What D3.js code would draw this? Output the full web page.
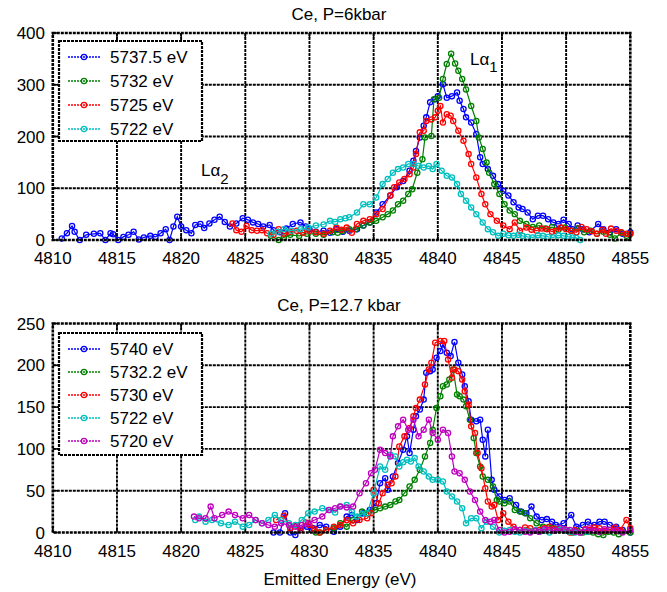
<!DOCTYPE html>
<html>
<head>
<meta charset="utf-8">
<script src="https://cdn.jsdelivr.net/npm/d3@7"></script>
<style>
  body { margin: 0; background: #fff; }
  svg text { font-family: "Liberation Sans", Arial, sans-serif; fill: #000; }
</style>
</head>
<body>
<div id="chart"></div>
<script>
// ---- data: [emitted energy (eV), counts] ----
var topLabels = ["5737.5 eV", "5732 eV", "5725 eV", "5722 eV"];
var botLabels = ["5740 eV", "5732.2 eV", "5730 eV", "5722 eV", "5720 eV"];
var topColors = ["#0000ff", "#008000", "#ff0000", "#00bfbf"];
var botColors = ["#0000ff", "#008000", "#ff0000", "#00bfbf", "#bf00bf"];
var xTicks = [4810, 4815, 4820, 4825, 4830, 4835, 4840, 4845, 4850, 4855];
var topYTicks = [0, 100, 200, 300, 400];
var botYTicks = [0, 50, 100, 150, 200, 250];

var top5737 = [[4810.7,3],[4811.1,13],[4811.5,27],[4811.7,16],[4812.1,0],[4812.6,10],[4813.2,12],[4813.7,13],[4814.1,0],[4814.5,13],[4814.7,11],[4815.1,0],[4815.5,6],[4815.9,10],[4816.3,16],[4816.7,1],[4817.1,5],[4817.6,8],[4818,6],[4818.4,13],[4818.8,21],[4819.1,0],[4819.4,26],[4819.7,45],[4820,26],[4820.4,19],[4820.8,13],[4821.1,29],[4821.5,31],[4821.8,23],[4822.2,32],[4822.6,39],[4823,45],[4823.4,35],[4823.8,26],[4824.3,32],[4824.8,42],[4825.2,39],[4825.6,34],[4826,31],[4826.4,26],[4826.9,29],[4827.2,19],[4827.7,15],[4828.2,22],[4828.7,31],[4829.3,34],[4829.7,26],[4830,21],[4830.5,16],[4831.1,18],[4831.6,14],[4832.1,21],[4832.6,16],[4833.1,18],[4833.7,21],[4834.2,28],[4834.7,34],[4835.2,53],[4835.7,69],[4836.3,86],[4836.8,102],[4837.3,114],[4837.8,134],[4838.1,153],[4838.3,172],[4838.6,198],[4838.9,221],[4839.1,237],[4839.4,266],[4839.8,272],[4840,278],[4840.4,301],[4840.7,275],[4841.1,278],[4841.5,285],[4841.7,269],[4842,253],[4842.2,237],[4842.6,227],[4843,205],[4843.3,160],[4843.5,147],[4843.9,137],[4844.3,124],[4844.7,108],[4845.1,95],[4845.5,86],[4845.9,73],[4846.3,63],[4846.6,60],[4847,53],[4847.4,40],[4847.8,47],[4848.2,47],[4848.6,40],[4849,34],[4849.4,31],[4849.8,39],[4850.2,31],[4850.5,21],[4850.9,28],[4851.3,21],[4851.8,15],[4852.5,31],[4852.9,21],[4853.4,15],[4853.9,21],[4854.4,12],[4855,15]];
var top5732 = [[4827,8],[4827.6,0],[4828,5],[4828.5,10],[4829.2,8],[4829.8,12],[4830.5,12],[4831.1,10],[4831.8,15],[4832.2,14],[4832.6,18],[4833.1,21],[4833.6,21],[4834.2,28],[4834.7,34],[4835.2,37],[4835.7,44],[4836.1,50],[4836.5,57],[4836.9,69],[4837.3,76],[4837.7,89],[4838,98],[4838.4,130],[4838.8,156],[4839,198],[4839.5,201],[4839.7,272],[4840.1,275],[4840.4,311],[4840.7,340],[4841.04,360],[4841.35,341],[4841.6,327],[4841.9,311],[4842.2,291],[4842.6,259],[4843,230],[4843.2,198],[4843.5,176],[4843.8,150],[4844,130],[4844.4,108],[4844.8,89],[4845.2,69],[4845.6,57],[4846,50],[4846.4,37],[4846.9,31],[4847.4,25],[4847.9,28],[4848.4,22],[4848.9,25],[4849.4,20],[4849.9,24],[4850.4,18],[4850.9,22],[4851.4,15],[4851.9,18],[4852.4,12],[4852.9,16],[4853.4,10],[4853.8,3],[4854.3,14],[4854.7,8],[4855,12]];
var top5725 = [[4824,32],[4824.3,19],[4824.7,16],[4825.1,27],[4825.5,19],[4825.9,18],[4826.3,19],[4826.7,13],[4827.2,10],[4827.6,21],[4828,12],[4828.5,16],[4829,18],[4829.5,14],[4830,18],[4830.5,15],[4831.1,12],[4831.6,18],[4832.1,24],[4832.5,20],[4832.9,24],[4833.3,14],[4833.7,31],[4834.2,37],[4834.7,40],[4835.2,50],[4835.7,60],[4836.3,86],[4836.6,102],[4837,111],[4837.4,118],[4837.8,127],[4838.1,140],[4838.3,166],[4838.6,208],[4838.9,211],[4839.1,230],[4839.5,233],[4839.8,237],[4840,250],[4840.2,259],[4840.4,227],[4840.7,243],[4841,240],[4841.2,230],[4841.6,211],[4842,192],[4842.4,166],[4842.6,147],[4843,121],[4843.4,89],[4843.7,69],[4844.1,50],[4844.6,37],[4845.1,28],[4845.6,21],[4846,34],[4846.4,18],[4846.9,24],[4847.3,20],[4847.7,18],[4848.1,22],[4848.5,21],[4848.9,16],[4849.2,18],[4849.6,24],[4850,21],[4850.4,18],[4850.8,15],[4851.2,25],[4851.6,21],[4852,17],[4852.4,12],[4852.8,20],[4853.1,12],[4853.5,22],[4853.9,18],[4854.3,15],[4854.7,12],[4855,12]];
var top5722 = [[4827,12],[4827.5,16],[4828,21],[4828.6,18],[4829.3,21],[4829.9,24],[4830.5,28],[4831.1,30],[4831.6,37],[4832,35],[4832.4,40],[4832.8,42],[4833.1,44],[4833.7,53],[4834.2,69],[4834.7,69],[4835.2,82],[4835.7,108],[4836.1,118],[4836.5,130],[4836.9,137],[4837.3,140],[4837.7,147],[4838.1,147],[4838.5,143],[4838.9,140],[4839.3,143],[4839.6,137],[4839.9,147],[4840.3,134],[4840.7,124],[4841.1,121],[4841.5,108],[4841.8,89],[4842.2,76],[4842.6,63],[4843,50],[4843.5,34],[4843.9,21],[4844.3,15],[4844.7,8],[4845.1,12],[4845.5,9],[4845.9,8],[4846.3,10],[4846.6,8],[4847,6],[4847.4,5],[4847.8,9],[4848.2,8],[4848.6,6],[4849,5],[4849.4,9],[4849.8,8],[4850.2,6],[4850.5,5],[4850.8,4],[4851.1,0]];

var bot5740 = [[4827.2,0],[4827.7,0],[4828.1,23],[4828.5,0],[4828.9,-3],[4829.3,5],[4829.8,7],[4830.3,5],[4830.8,9],[4831.3,7],[4831.9,1],[4832.4,7],[4832.9,19],[4833.3,21],[4833.7,15],[4834.2,23],[4834.7,27],[4835.2,35],[4835.5,59],[4835.9,65],[4836.1,51],[4836.5,67],[4836.9,83],[4837.3,99],[4837.6,115],[4837.8,95],[4838.1,123],[4838.3,139],[4838.6,147],[4838.9,159],[4839.1,191],[4839.4,193],[4839.6,195],[4839.9,209],[4840.2,217],[4840.4,225],[4840.7,215],[4841,211],[4841.3,228],[4841.6,203],[4841.9,189],[4842.1,175],[4842.4,157],[4842.6,135],[4843,133],[4843.3,135],[4843.5,111],[4843.7,91],[4843.9,123],[4844.2,63],[4844.4,51],[4844.8,43],[4845.2,39],[4845.6,41],[4846.1,33],[4846.5,25],[4846.9,23],[4847.3,31],[4847.7,19],[4848.1,15],[4848.5,16],[4848.9,13],[4849.2,9],[4849.8,11],[4850.4,21],[4850.8,7],[4851.3,9],[4851.7,13],[4852.2,9],[4852.6,13],[4853,13],[4853.4,9],[4853.9,7],[4854.4,3],[4855,0]];
var bot5732 = [[4830.5,0],[4830.8,0],[4831.3,3],[4831.9,5],[4832.4,11],[4832.9,7],[4833.4,15],[4834.1,25],[4834.6,23],[4835.1,27],[4835.5,29],[4835.9,31],[4836.3,33],[4836.7,37],[4837,39],[4837.4,47],[4837.8,55],[4838.2,63],[4838.6,75],[4839,91],[4839.4,107],[4839.6,123],[4839.9,149],[4840.2,163],[4840.4,175],[4840.7,177],[4840.9,183],[4841.2,195],[4841.5,165],[4841.7,163],[4842,159],[4842.2,151],[4842.5,135],[4842.8,113],[4843,95],[4843.3,79],[4843.5,67],[4843.9,63],[4844.3,55],[4844.6,39],[4844.8,37],[4845.2,35],[4845.6,37],[4846,27],[4846.4,25],[4846.8,23],[4847.2,17],[4847.7,11],[4848.2,7],[4848.6,6],[4849,5],[4849.4,4],[4849.8,3],[4850.1,2],[4850.5,0],[4850.9,2],[4851.3,0],[4851.7,1],[4852.1,0],[4852.5,-2],[4852.9,-3],[4853.3,1],[4853.7,0],[4854.1,-2],[4854.4,1],[4855,0]];
var bot5730 = [[4827.4,15],[4828,20],[4828.5,5],[4829,8],[4829.3,3],[4829.7,12],[4830,9],[4830.4,4],[4830.8,0],[4831.3,3],[4831.9,7],[4832.4,9],[4832.9,15],[4833.4,11],[4833.9,15],[4834.5,17],[4834.8,23],[4835,51],[4835.4,35],[4835.7,47],[4836.1,57],[4836.4,59],[4836.7,67],[4837,103],[4837.4,115],[4837.8,125],[4838.1,139],[4838.3,149],[4838.6,159],[4839,177],[4839.3,195],[4839.5,203],[4839.8,227],[4840.2,229],[4840.5,229],[4840.8,207],[4841.1,185],[4841.3,195],[4841.6,193],[4841.9,183],[4842.1,169],[4842.4,153],[4842.6,127],[4842.9,119],[4843.1,95],[4843.4,77],[4843.7,53],[4843.9,37],[4844.2,31],[4844.4,33],[4844.7,15],[4845.1,23],[4845.5,13],[4845.9,7],[4846.4,3],[4846.8,6],[4847.2,5],[4847.6,2],[4847.9,3],[4848.3,5],[4848.7,7],[4849.1,4],[4849.5,3],[4849.9,2],[4850.3,0],[4850.7,3],[4851.1,0],[4851.5,4],[4851.8,3],[4852.2,6],[4852.6,5],[4853,2],[4853.4,3],[4853.8,6],[4854.2,3],[4854.7,15],[4855,5]];
var bot5722 = [[4821.1,15],[4821.4,19],[4821.9,13],[4822.4,15],[4823.1,11],[4823.7,9],[4824.2,13],[4824.8,7],[4825.3,9],[4825.8,15],[4826.3,11],[4826.8,15],[4827.3,21],[4827.8,15],[4828.4,11],[4828.9,9],[4829.4,15],[4829.9,23],[4830.4,25],[4831,29],[4831.6,27],[4832,24],[4832.4,31],[4832.9,33],[4833.3,25],[4833.7,19],[4834.1,22],[4834.5,23],[4835,47],[4835.5,79],[4835.9,75],[4836.3,93],[4836.7,91],[4837,79],[4837.3,84],[4837.6,87],[4837.9,85],[4838.2,89],[4838.5,79],[4838.9,73],[4839.3,67],[4839.6,63],[4840,63],[4840.4,61],[4840.7,49],[4841.1,43],[4841.5,37],[4841.9,29],[4842.2,11],[4842.6,17],[4843,17],[4843.4,5],[4843.8,13],[4844.3,7],[4844.8,0],[4845.2,2],[4845.6,3],[4846,1],[4846.4,0],[4846.8,2],[4847.2,1],[4847.6,3],[4847.9,1],[4848.3,2],[4848.7,0],[4849.1,2],[4849.5,3],[4849.9,2],[4850.3,1],[4850.7,0],[4851.1,0],[4851.6,1]];
var bot5720 = [[4821,19],[4821.4,17],[4821.9,17],[4822.3,31],[4822.6,17],[4823.2,21],[4823.7,25],[4824.2,21],[4824.8,17],[4825.3,21],[4825.8,15],[4826.3,11],[4826.8,9],[4827.3,7],[4827.8,11],[4828.4,9],[4828.9,7],[4829.4,9],[4829.9,11],[4830.4,15],[4831,19],[4831.5,27],[4832,29],[4832.4,31],[4832.9,30],[4833.4,31],[4833.9,47],[4834.4,59],[4834.8,71],[4835.1,75],[4835.5,99],[4835.9,95],[4836.3,91],[4836.5,115],[4836.9,127],[4837.3,135],[4837.7,123],[4838.1,135],[4838.5,115],[4838.9,123],[4839.3,135],[4839.6,119],[4840,111],[4840.4,123],[4840.8,119],[4841.1,91],[4841.3,73],[4841.7,71],[4842.1,63],[4842.5,49],[4842.9,39],[4843.3,25],[4843.7,15],[4844.1,13],[4844.4,15],[4844.8,3],[4845.2,0],[4845.6,1],[4846,4],[4846.4,3],[4846.8,1],[4847.2,0],[4847.6,2],[4847.9,1],[4848.3,4],[4848.7,3],[4849.1,2],[4849.5,5],[4849.9,4],[4850.3,3],[4850.7,1],[4851.1,0],[4851.5,3],[4851.8,5],[4852.2,2],[4852.6,1],[4853,4],[4853.4,3],[4853.9,2],[4854.4,0],[4855,3]];

var W = 667, H = 592;
var svg = d3.select("#chart").append("svg")
  .attr("width", W).attr("height", H);

var x = d3.scaleLinear().domain([4810, 4855]).range([52.8, 630.3]);

function drawPanel(p) {
  var y = d3.scaleLinear().domain(p.domain).range([p.bottom, p.top]);
  var g = svg.append("g");
  var x0 = x.range()[0], x1 = x.range()[1];

  // dotted grid
  g.selectAll(".gx").data(xTicks.slice(1, -1)).enter().append("line")
    .attr("x1", d => x(d)).attr("x2", d => x(d))
    .attr("y1", p.top).attr("y2", p.bottom)
    .attr("stroke", "#000").attr("stroke-width", 1.9).attr("stroke-dasharray", "3,1");
  g.selectAll(".gy").data(p.yTicks.slice(1, -1)).enter().append("line")
    .attr("x1", x0).attr("x2", x1)
    .attr("y1", d => y(d)).attr("y2", d => y(d))
    .attr("stroke", "#000").attr("stroke-width", 1.9).attr("stroke-dasharray", "3,1");

  // ticks inside on all four sides
  xTicks.forEach(function(t) {
    g.append("line").attr("x1", x(t)).attr("x2", x(t)).attr("y1", p.bottom).attr("y2", p.bottom - 5)
      .attr("stroke", "#000").attr("stroke-width", 1.5);
    g.append("line").attr("x1", x(t)).attr("x2", x(t)).attr("y1", p.top).attr("y2", p.top + 5)
      .attr("stroke", "#000").attr("stroke-width", 1.5);
  });
  p.yTicks.forEach(function(t) {
    g.append("line").attr("x1", x0).attr("x2", x0 + 5).attr("y1", y(t)).attr("y2", y(t))
      .attr("stroke", "#000").attr("stroke-width", 1.5);
    g.append("line").attr("x1", x1).attr("x2", x1 - 5).attr("y1", y(t)).attr("y2", y(t))
      .attr("stroke", "#000").attr("stroke-width", 1.5);
  });

  // tick labels
  g.selectAll(".xl").data(xTicks).enter().append("text")
    .attr("x", d => x(d)).attr("y", p.bottom + 24)
    .attr("text-anchor", "middle").attr("font-size", 17).text(d => d);
  g.selectAll(".yl").data(p.yTicks).enter().append("text")
    .attr("x", 45).attr("y", d => y(d) + 6)
    .attr("text-anchor", "end").attr("font-size", 17).text(d => d);

  // title
  g.append("text").attr("x", 339).attr("y", p.top - 13)
    .attr("text-anchor", "middle").attr("font-size", 17).text(p.title);

  // series
  var line = d3.line().x(d => x(d[0])).y(d => y(d[1]));
  p.series.forEach(function(s, i) {
    var sg = g.append("g");
    sg.append("path").datum(s).attr("d", line)
      .attr("fill", "none").attr("stroke", p.colors[i]).attr("stroke-width", 1.2);
    sg.selectAll("circle").data(s).enter().append("circle")
      .attr("cx", d => x(d[0])).attr("cy", d => y(d[1])).attr("r", 2.6)
      .attr("fill", "none").attr("stroke", p.colors[i]).attr("stroke-width", 1.3);
  });

  // axes box
  g.append("rect").attr("x", x0).attr("y", p.top)
    .attr("width", x1 - x0).attr("height", p.bottom - p.top)
    .attr("fill", "none").attr("stroke", "#000").attr("stroke-width", 2.6).attr("stroke-dasharray", "3,1");

  // legend
  var lg = g.append("g");
  lg.append("rect").attr("x", 59).attr("y", p.legTop)
    .attr("width", 143).attr("height", p.legH)
    .attr("fill", "#fff").attr("stroke", "#000").attr("stroke-width", 2.2).attr("stroke-dasharray", "3,1");
  p.labels.forEach(function(lab, i) {
    var ry = p.legTop + 16 + i * p.legRow;
    lg.append("line").attr("x1", 68).attr("x2", 100).attr("y1", ry).attr("y2", ry)
      .attr("stroke", p.colors[i]).attr("stroke-width", 1.3).attr("stroke-dasharray", "2,1");
    lg.append("circle").attr("cx", 84).attr("cy", ry).attr("r", 2.6)
      .attr("fill", "none").attr("stroke", p.colors[i]).attr("stroke-width", 1.3);
    lg.append("text").attr("x", 110).attr("y", ry + 6).attr("font-size", 17).text(lab);
  });
  return g;
}

var gTop = drawPanel({
  title: "Ce, P=6kbar", top: 33, bottom: 240, domain: [0, 400], yTicks: topYTicks,
  series: [top5737, top5732, top5725, top5722], colors: topColors, labels: topLabels,
  legTop: 41, legH: 100, legRow: 24
});
var gBot = drawPanel({
  title: "Ce, P=12.7 kbar", top: 323.5, bottom: 532.5, domain: [0, 250], yTicks: botYTicks,
  series: [bot5740, bot5732, bot5730, bot5722, bot5720], colors: botColors, labels: botLabels,
  legTop: 333, legH: 122, legRow: 23
});

// peak annotations
var a1 = gTop.append("text").attr("x", 470).attr("y", 65).attr("font-size", 17);
a1.append("tspan").text("L\u03b1");
a1.append("tspan").attr("dy", 7).attr("font-size", 15).text("1");
var a2 = gTop.append("text").attr("x", 201).attr("y", 176).attr("font-size", 17);
a2.append("tspan").text("L\u03b1");
a2.append("tspan").attr("dy", 8).attr("font-size", 15).text("2");

svg.append("text").attr("x", 340).attr("y", 585)
  .attr("text-anchor", "middle").attr("font-size", 17).text("Emitted Energy (eV)");
</script>
</body>
</html>
